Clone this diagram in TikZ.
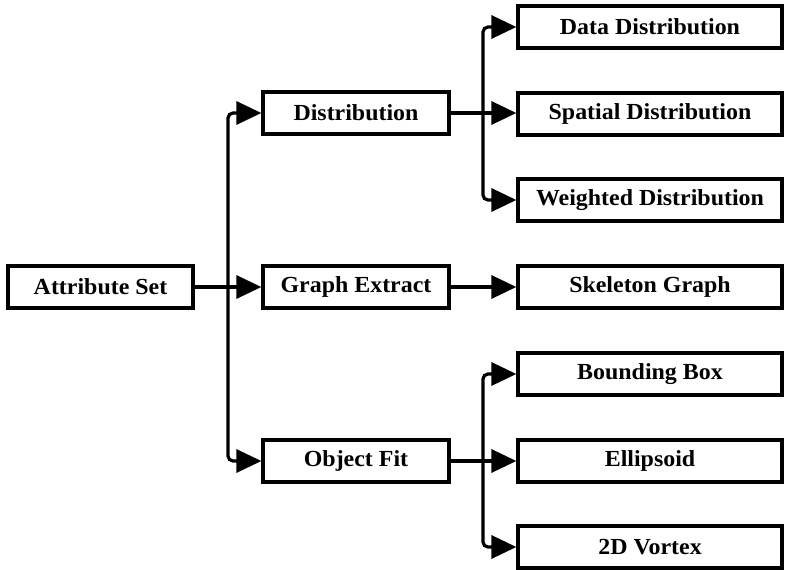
\documentclass[tikz,border=0pt]{standalone}
\usepackage{fontspec}
\setmainfont{Liberation Serif}[FakeStretch=1.04]
\usetikzlibrary{arrows.meta}
\begin{document}
\begin{tikzpicture}[x=1pt,y=-1pt,
  box/.style={draw,line width=3.2pt,rectangle,inner sep=0pt,minimum height=42pt,
    font=\fontsize{23}{26}\selectfont\bfseries},
  midbox/.style={box,minimum width=186pt},
  leafbox/.style={box,minimum width=264pt},
  link/.style={line width=3.2pt},
  arr/.style={link,-{Triangle[length=25pt,width=23pt]}},
  elbow/.style={rounded corners=5pt}]
\useasboundingbox (0,0) rectangle (785,570);

% root
\node[box,minimum width=185pt] (attr) at (100.5,287) {Attribute Set};

% middle column
\node[midbox] (dist)  at (356,113) {Distribution};
\node[midbox] (graph) at (356,287) {Graph Extract};
\node[midbox] (obj)   at (356,461) {Object Fit};

% leaf column
\node[leafbox] (data)     at (650,27)  {Data Distribution};
\node[leafbox] (spatial)  at (650,114) {Spatial Distribution};
\node[leafbox] (weighted) at (650,200) {Weighted Distribution};
\node[leafbox] (skel)     at (650,287) {Skeleton Graph};
\node[leafbox] (bbox)     at (650,374) {Bounding Box};
\node[leafbox] (ellip)    at (650,461) {Ellipsoid};
\node[leafbox] (vortex)   at (650,547) {2D Vortex};

% branch points
\coordinate (j1) at (228,287);
\coordinate (j2) at (483,113);
\coordinate (j3) at (483,461);

% root to middle column
\draw[arr] (attr.east) -- (graph.west);
\draw[arr,elbow] (j1) |- (dist.west);
\draw[arr,elbow] (j1) |- (obj.west);

% distribution branch
\draw[arr] (dist.east) -- (dist.east -| spatial.west);
\draw[arr,elbow] (j2) |- (data.west);
\draw[arr,elbow] (j2) |- (weighted.west);

% graph extract branch
\draw[arr] (graph.east) -- (skel.west);

% object fit branch
\draw[arr] (obj.east) -- (ellip.west);
\draw[arr,elbow] (j3) |- (bbox.west);
\draw[arr,elbow] (j3) |- (vortex.west);
\end{tikzpicture}
\end{document}
